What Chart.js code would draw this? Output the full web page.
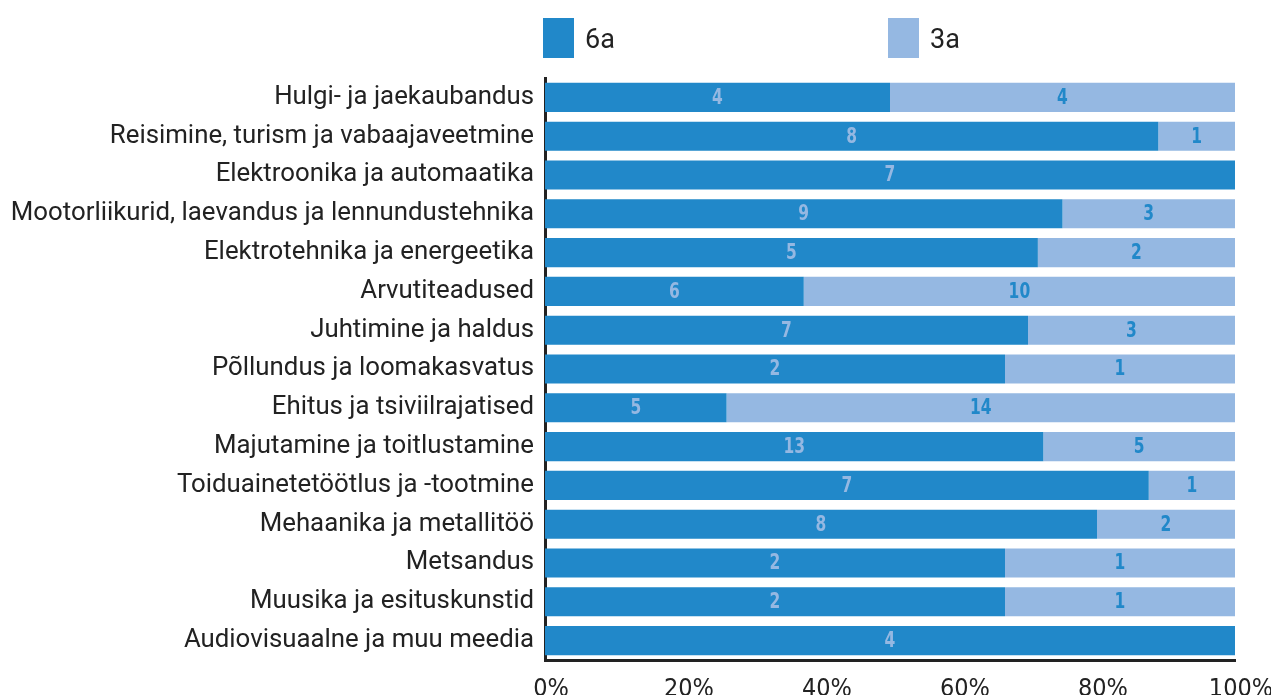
<!DOCTYPE html>
<html>
<head>
<meta charset="utf-8">
<script src="https://cdn.jsdelivr.net/npm/chart.js@4.4.1/dist/chart.umd.min.js"></script>
<style>
  html, body { margin: 0; padding: 0; background: #fff; overflow: hidden; }
  #wrap { width: 1271px; height: 705px; position: relative; }
</style>
</head>
<body>
<div id="wrap"><canvas id="c"></canvas></div>
<script>
const categories = [
  "Hulgi- ja jaekaubandus",
  "Reisimine, turism ja vabaajaveetmine",
  "Elektroonika ja automaatika",
  "Mootorliikurid, laevandus ja lennundustehnika",
  "Elektrotehnika ja energeetika",
  "Arvutiteadused",
  "Juhtimine ja haldus",
  "Põllundus ja loomakasvatus",
  "Ehitus ja tsiviilrajatised",
  "Majutamine ja toitlustamine",
  "Toiduainetetöötlus ja -tootmine",
  "Mehaanika ja metallitöö",
  "Metsandus",
  "Muusika ja esituskunstid",
  "Audiovisuaalne ja muu meedia"
];
const counts6a = [4, 8, 7, 9, 5, 6, 7, 2, 5, 13, 7, 8, 2, 2, 4];
const counts3a = [4, 1, 0, 3, 2, 10, 3, 1, 14, 5, 1, 2, 1, 1, 0];
const seriesNames = ["6a", "3a"];
const xTicks = [0, 20, 40, 60, 80, 100];

const DARK = "#2188c9";
const LIGHT = "#95b8e2";
const NARROW = "'Liberation Sans Narrow', 'DejaVu Sans Condensed', sans-serif";

const totals = counts6a.map((v, i) => v + counts3a[i]);
const share6a = counts6a.map((v, i) => v / totals[i] * 100);
const share3a = counts3a.map((v, i) => v / totals[i] * 100);

const CHART_LEFT = 545;

const valueLabels = {
  id: "valueLabels",
  afterDatasetsDraw(chart) {
    const ctx = chart.ctx;
    chart.data.datasets.forEach((ds, di) => {
      const meta = chart.getDatasetMeta(di);
      meta.data.forEach((bar, i) => {
        const c = ds.counts[i];
        if (!c) return;
        const cx = (bar.x + bar.base) / 2;
        ctx.save();
        ctx.translate(cx, bar.y + 1);
        ctx.scale(0.82, 1);
        ctx.font = "bold 21px " + NARROW;
        ctx.textAlign = "center";
        ctx.textBaseline = "middle";
        ctx.fillStyle = ds.labelColor;
        ctx.fillText(String(c), 0, 0);
        ctx.restore();
      });
    });
  }
};

const topLegend = {
  id: "topLegend",
  afterDraw(chart) {
    const ctx = chart.ctx;
    const a = chart.chartArea;
    ctx.save();
    chart.data.datasets.forEach((ds, di) => {
      const x = a.left - 2 + di * (a.right - a.left) / 2;
      ctx.fillStyle = ds.backgroundColor;
      ctx.fillRect(x, 18, 31, 40);
      ctx.fillStyle = "#222";
      ctx.font = "27px Roboto, sans-serif";
      ctx.textAlign = "left";
      ctx.textBaseline = "middle";
      ctx.fillText(ds.label, x + 42, 41);
    });
    ctx.restore();
  }
};

new Chart(document.getElementById("c"), {
  type: "bar",
  data: {
    labels: categories,
    datasets: [
      { label: seriesNames[0], data: share6a, counts: counts6a, backgroundColor: DARK, labelColor: LIGHT,
        barPercentage: 0.75, categoryPercentage: 1.0, borderWidth: 0 },
      { label: seriesNames[1], data: share3a, counts: counts3a, backgroundColor: LIGHT, labelColor: DARK,
        barPercentage: 0.75, categoryPercentage: 1.0, borderWidth: 0 }
    ]
  },
  options: {
    indexAxis: "y",
    responsive: true,
    maintainAspectRatio: false,
    animation: false,
    layout: { padding: { top: 78, right: 36, bottom: 0, left: 0 } },
    plugins: {
      legend: { display: false },
      tooltip: { enabled: false }
    },
    scales: {
      x: {
        stacked: true,
        min: 0,
        max: 100,
        afterBuildTicks(scale) { scale.ticks = xTicks.map(v => ({ value: v })); },
        afterFit(scale) {
          scale.height = 45;
          scale.paddingLeft = 0;
          scale.paddingRight = 0;
        },
        grid: { display: false, drawTicks: false },
        border: { display: true, color: "#222", width: 3 },
        ticks: {
          padding: 14,
          labelOffset: 6,
          color: "#222",
          font: { family: NARROW, size: 25 },
          callback: v => v + "%",
          maxRotation: 0
        }
      },
      y: {
        stacked: true,
        afterFit(scale) { scale.width = CHART_LEFT; },
        grid: { display: false, drawTicks: false },
        border: { display: true, color: "#222", width: 3 },
        ticks: {
          padding: 11,
          color: "#222",
          autoSkip: false,
          font: { family: "Roboto, sans-serif", size: 25.8 }
        }
      }
    }
  },
  plugins: [valueLabels, topLegend]
});
</script>
</body>
</html>
